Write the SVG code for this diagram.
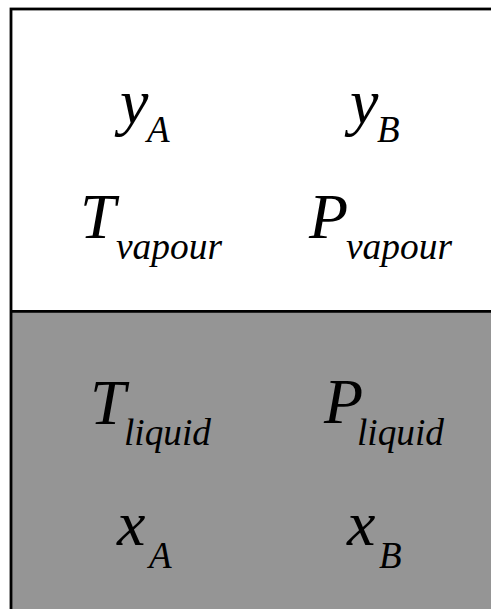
<svg xmlns="http://www.w3.org/2000/svg" width="491" height="609" viewBox="0 0 491 609">
<style>
.m{font-family:"Liberation Serif","Times New Roman",serif;font-style:italic;fill:#000}
.big{font-size:64px}
.sub{font-size:37px}
</style>
<rect x="0" y="0" width="491" height="609" fill="#fff"/>
<g id="vapour">
<rect x="11" y="9" width="500" height="302" fill="#fff"/>
</g>
<g id="liquid">
<rect x="11" y="311" width="500" height="320" fill="#959595"/>
</g>
<g id="frame" fill="none" stroke="#000">
<rect x="11" y="9" width="500" height="640" stroke-width="2.8"/>
<line x1="11" y1="311.3" x2="491" y2="311.3" stroke-width="2.8"/>
</g>
<g id="yA"><text class="m big" x="120" y="123">y</text><text class="m sub" x="147" y="142">A</text></g>
<g id="yB"><text class="m big" x="350" y="123">y</text><text class="m sub" x="377" y="142">B</text></g>
<g id="Tv"><text class="m big" x="80" y="238">T</text><text class="m sub" x="116" y="259" textLength="106" lengthAdjust="spacingAndGlyphs">vapour</text></g>
<g id="Pv"><text class="m big" x="309" y="238">P</text><text class="m sub" x="346" y="259" textLength="106" lengthAdjust="spacingAndGlyphs">vapour</text></g>
<g id="Tl"><text class="m big" x="90" y="424">T</text><text class="m sub" x="124" y="445" textLength="87" lengthAdjust="spacingAndGlyphs">liquid</text></g>
<g id="Pl"><text class="m big" x="324" y="423">P</text><text class="m sub" x="357" y="445" textLength="87" lengthAdjust="spacingAndGlyphs">liquid</text></g>
<g id="xA"><text class="m big" x="117" y="545">x</text><text class="m sub" x="149" y="568">A</text></g>
<g id="xB"><text class="m big" x="347" y="545">x</text><text class="m sub" x="379" y="568">B</text></g>
</svg>
